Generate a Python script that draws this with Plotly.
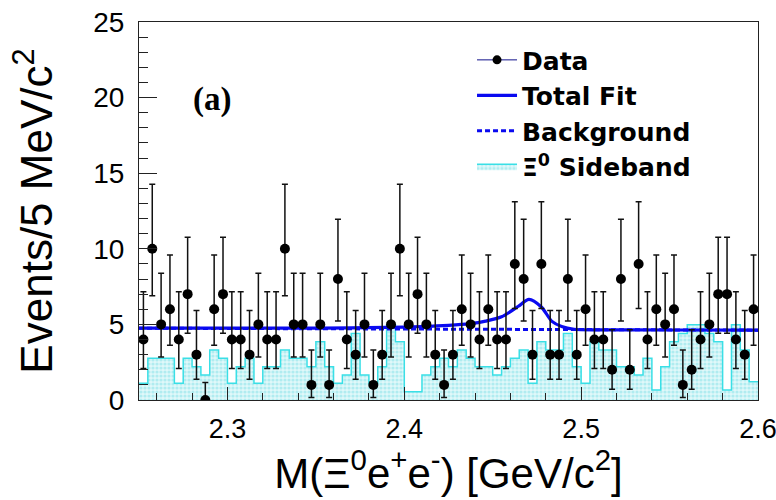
import plotly.graph_objects as go

# ---------------- data ----------------
bin_low = 2.25
bin_width = 0.005

counts = [4, 10, 5, 6, 4, 7, 3, 0, 6, 7, 4, 4, 3, 5, 4, 4, 10, 5,
          5, 1, 5, 1, 8, 4, 3, 5, 1, 3, 5, 10, 5, 7, 5, 3, 1, 3,
          6, 5, 4, 6, 4, 4, 9, 8, 3, 9, 3, 3, 8, 3, 6, 4, 4, 2,
          8, 2, 9, 4, 6, 5, 6, 1, 2, 4, 5, 7, 7, 4, 3, 6]

sideband = [1.1, 2.76, 2.76, 2.76, 1.1, 2.76, 2.2, 1.65, 3.3, 2.76, 1.1, 2.2, 2.76, 1.1, 2.2, 2.2, 3.3, 2.76,
            2.76, 2.2, 3.86, 2.2, 1.1, 1.65, 4.4, 1.65, 1.1, 2.2, 4.97, 3.86, 0.55, 0.55, 1.65, 2.2, 2.76, 2.2,
            3.3, 2.76, 2.2, 2.2, 1.65, 2.2, 2.76, 3.3, 1.1, 3.86, 3.3, 3.3, 4.4, 2.2, 1.1, 3.86, 3.3, 3.3,
            2.2, 2.2, 1.65, 2.76, 0.66, 2.2, 3.86, 4.4, 4.97, 4.97, 4.4, 3.86, 0.66, 4.97, 3.3, 1.2]

# Poisson (68%) interval limits as drawn, indexed by count
poisson_low = [0.0, 0.173, 0.708, 1.367, 2.086, 2.840, 3.620, 4.419, 5.232, 6.057, 6.891]
poisson_high = [1.15, 3.300, 4.638, 5.918, 7.163, 8.382, 9.584, 10.77, 11.95, 13.11, 14.27]

fit_x = [2.25, 2.30, 2.34, 2.37, 2.39, 2.41, 2.425, 2.437, 2.446, 2.455, 2.4645, 2.4705,
         2.4775, 2.4835, 2.489, 2.496, 2.51, 2.55, 2.60]
fit_y = [4.76, 4.75, 4.75, 4.77, 4.80, 4.86, 4.94, 5.05, 5.22, 5.50, 6.20, 6.65,
         6.15, 5.20, 4.86, 4.68, 4.64, 4.63, 4.62]

bkg_x = [2.25, 2.60]
bkg_y = [4.75, 4.62]

x_range = [2.25, 2.60]
y_range = [0, 25]

panel_label = "(a)"
panel_label_pos = (2.291, 19.9)

# ---------------- derived ----------------
n_bins = len(counts)
centers = [bin_low + bin_width * (i + 0.5) for i in range(n_bins)]
edges = [bin_low + bin_width * i for i in range(n_bins + 1)]
err_plus = [poisson_high[c] - c for c in counts]
err_minus = [c - poisson_low[c] for c in counts]
sb_y = sideband + [sideband[-1]]

BLUE = "#0a0af0"
CYAN = "#3adfe6"

fig = go.Figure()

# sideband histogram
fig.add_trace(go.Scatter(
    x=edges, y=sb_y, mode="lines", line=dict(shape="hv", color=CYAN, width=1.5),
    fill="tozeroy", fillcolor="#d2f4f6",
    fillpattern=dict(shape=".", fgcolor="#7fe0e8", bgcolor="#e0f8f9", size=4, solidity=0.5),
    name="<b>\u039e<sup>0</sup> Sideband</b>", legendrank=4,
))

# background
fig.add_trace(go.Scatter(
    x=bkg_x, y=bkg_y, mode="lines", line=dict(color=BLUE, width=3, dash="5px,3px"),
    name="<b>Background</b>", legendrank=3,
))

# total fit
fig.add_trace(go.Scatter(
    x=fit_x, y=fit_y, mode="lines", line=dict(color=BLUE, width=3.2, shape="spline", smoothing=0.8),
    name="<b>Total Fit</b>", legendrank=2,
))

# data
fig.add_trace(go.Scatter(
    x=centers, y=counts, mode="markers",
    marker=dict(color="black", size=10),
    error_y=dict(type="data", symmetric=False, array=err_plus, arrayminus=err_minus,
                 color="#111111", thickness=1.5, width=3),
    showlegend=False, name="Data",
))
# legend entry for data
fig.add_trace(go.Scatter(
    x=[None], y=[None], mode="lines+markers",
    line=dict(color="#10108a", width=1), marker=dict(color="black", size=9),
    name="<b>Data</b>", legendrank=1,
))

fig.add_annotation(
    x=panel_label_pos[0], y=panel_label_pos[1], xref="x", yref="y",
    text="<b>" + panel_label + "</b>", showarrow=False,
    font=dict(family="Liberation Serif", size=33, color="black"),
)

axis_common = dict(
    showgrid=False, zeroline=False, showline=True, linecolor="#222222", linewidth=1.2,
    mirror=True, ticks="inside", tickcolor="#222222", automargin=False,
    ticklabeloverflow="allow",
)

fig.update_layout(
    width=776, height=500,
    margin=dict(l=139, r=18, t=22, b=100),
    paper_bgcolor="white", plot_bgcolor="white",
    xaxis=dict(
        range=x_range, dtick=0.1, tick0=2.3, ticklen=13, tickwidth=1.2,
        minor=dict(dtick=0.02, ticklen=7, ticks="inside", tickcolor="#222222", tickwidth=1),
        ticklabelstandoff=4,
        tickfont=dict(family="Liberation Sans, Arial", size=27, color="black"),
        title=dict(text="M(\u039e<sup>0</sup>e<sup>+</sup>e<sup>-</sup>) [GeV/c<sup>2</sup>]",
                   font=dict(family="Liberation Sans, Arial", size=42, color="black"), standoff=2),
        **axis_common,
    ),
    yaxis=dict(
        range=y_range, dtick=5, ticklen=18, tickwidth=1.2,
        minor=dict(dtick=1, ticklen=9, ticks="inside", tickcolor="#222222", tickwidth=1),
        ticklabelstandoff=8,
        tickfont=dict(family="Liberation Sans, Arial", size=28, color="black"),
        title=dict(text="Events/5 MeV/c<sup>2</sup>",
                   font=dict(family="Liberation Sans, Arial", size=44, color="black"), standoff=26),
        **axis_common,
    ),
    legend=dict(
        x=0.538, y=0.96, xanchor="left", yanchor="top",
        bgcolor="rgba(0,0,0,0)", borderwidth=0,
        font=dict(family="DejaVu Sans", size=25, color="black"),
        itemwidth=40, tracegroupgap=0, traceorder="normal",
    ),
    showlegend=True,
)

fig.write_html("out.html")
